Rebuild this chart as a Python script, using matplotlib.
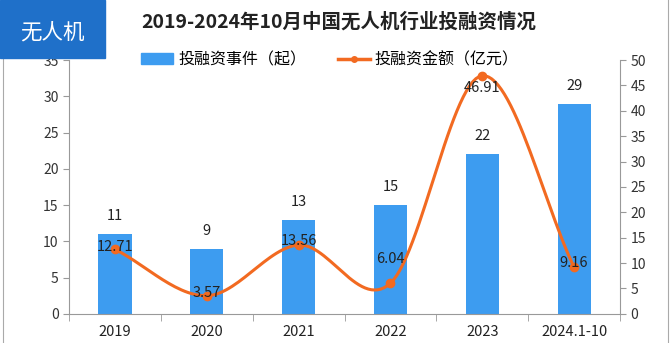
import numpy as np
import matplotlib
matplotlib.use("Agg")
import matplotlib.pyplot as plt
from matplotlib.patches import Rectangle
from matplotlib.lines import Line2D

plt.rcParams['font.family'] = ['Noto Sans CJK SC', 'DejaVu Sans']

# data
years = ['2019', '2020', '2021', '2022', '2023', '2024.1-10']
events = [11, 9, 13, 15, 22, 29]
amount = [12.71, 3.57, 13.56, 6.04, 46.91, 9.16]
label_dy = [0.5, 0.5, 0.8, 4.7, -2.4, 0.8]   # where the amount labels sit (right axis units)

bar_color = '#3d9cf0'
line_color = '#f26a21'


def smooth(xs, ys, n=30):
    # catmull-rom curve through the points, just for drawing a smooth line
    xs = np.asarray(xs, float)
    ys = np.asarray(ys, float)
    px = np.concatenate([[2 * xs[0] - xs[1]], xs, [2 * xs[-1] - xs[-2]]])
    py = np.concatenate([[2 * ys[0] - ys[1]], ys, [2 * ys[-1] - ys[-2]]])
    out_x, out_y = [], []
    t = np.linspace(0, 1, n)
    for i in range(1, len(px) - 2):
        for p, out in ((px, out_x), (py, out_y)):
            p0, p1, p2, p3 = p[i - 1], p[i], p[i + 1], p[i + 2]
            out.extend(0.5 * ((2 * p1) + (-p0 + p2) * t
                              + (2 * p0 - 5 * p1 + 4 * p2 - p3) * t ** 2
                              + (-p0 + 3 * p1 - 3 * p2 + p3) * t ** 3))
    return np.array(out_x), np.array(out_y)


fig = plt.figure(figsize=(6.71, 3.43), dpi=100)
ax = fig.add_axes([0.103, 0.085, 0.821, 0.74])
ax2 = ax.twinx()

x = np.arange(len(years))
ax.bar(x, events, width=0.36, color=bar_color, zorder=2)
for xi, v in zip(x, events):
    ax.text(xi, v + 1.5, str(v), ha='center', va='bottom', fontsize=10.5, color='#222222')

sx, sy = smooth(x, amount)
ax2.plot(sx, sy, color=line_color, lw=2.2, zorder=3)
ax2.plot(x, amount, 'o', color=line_color, ms=6, zorder=3)
for xi, v, dy in zip(x, amount, label_dy):
    ax2.text(xi, v + dy, f'{v:.2f}', ha='center', va='center', fontsize=10.5,
             color='#222222', zorder=4)

ax.set_xlim(-0.5, len(years) - 0.5)
ax.set_ylim(0, 35)
ax2.set_ylim(0, 50)
ax.set_yticks(range(0, 36, 5))
ax2.set_yticks(range(0, 51, 5))
ax.set_xticks(x)
ax.set_xticklabels(years)
ax.set_xticks(np.arange(-0.5, len(years), 1), minor=True)
ax.tick_params(axis='x', which='major', length=0, pad=8, labelsize=10.5, labelcolor='#222222')
ax.tick_params(axis='x', which='minor', length=5, color='#999999')
ax.tick_params(axis='y', length=4, color='#999999', labelsize=10, labelcolor='#333333')
ax2.tick_params(axis='y', length=4, color='#999999', labelsize=10, labelcolor='#333333')

for a in (ax, ax2):
    a.spines['top'].set_visible(False)
    for s in ('left', 'right', 'bottom'):
        a.spines[s].set_color('#999999')
ax.spines['right'].set_visible(False)
ax2.spines['left'].set_visible(False)
ax2.spines['bottom'].set_visible(False)

# legend
handles = [Rectangle((0, 0), 1, 1, color=bar_color),
           Line2D([], [], color=line_color, lw=2.5, marker='o', ms=4)]
fig.legend(handles, ['投融资事件（起）', '投融资金额（亿元）'], loc='center',
           bbox_to_anchor=(0.492, 0.826), ncol=2, frameon=False, fontsize=11.5,
           handlelength=2.0, handleheight=0.6, columnspacing=2.0, handletextpad=0.3)

# title
fig.text(0.505, 0.936, '2019-2024年10月中国无人机行业投融资情况', ha='center', va='center',
         fontsize=14, fontweight='bold', color='#222222')

# blue tag in top-left corner
fig.patches.append(Rectangle((0, 0.831), 0.157, 0.169, transform=fig.transFigure,
                             color='#1f70c9', zorder=5))
fig.text(0.078, 0.905, '无人机', ha='center', va='center', fontsize=15.5,
         color='white', zorder=6)

# thin frame lines at left and right
fig.add_artist(Line2D([0.005, 0.005], [0, 0.83], transform=fig.transFigure, color='#aaaaaa', lw=0.8))
fig.add_artist(Line2D([0.995, 0.995], [0, 1], transform=fig.transFigure, color='#aaaaaa', lw=0.8))

fig.savefig('out.png', dpi=100)
